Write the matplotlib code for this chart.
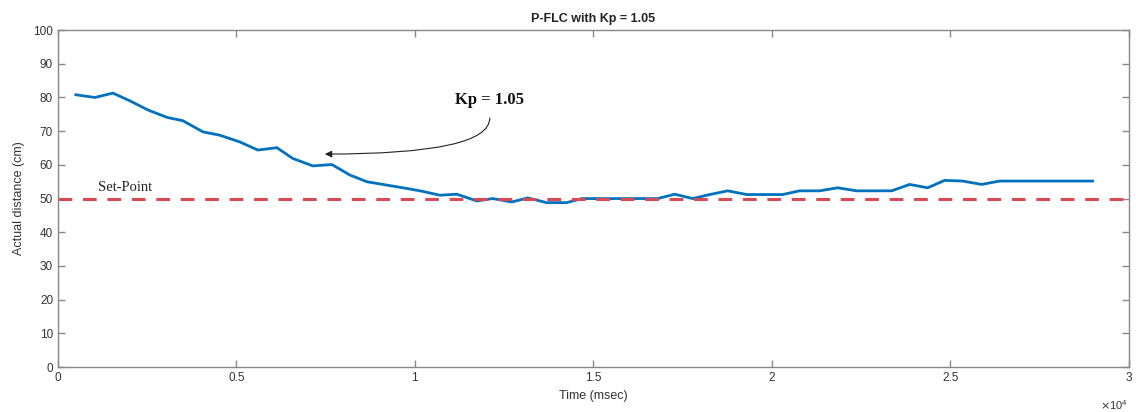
import numpy as np
import matplotlib
matplotlib.use("Agg")
import matplotlib.pyplot as plt
from matplotlib.ticker import FuncFormatter

# sample times (msec) and measured distance (cm)
time_ms = [504, 1036, 1541, 2017, 2521, 3053, 3501, 4062, 4538, 5098,
           5602, 6134, 6582, 7142, 7675, 8179, 8655, 9215, 9775, 10196,
           10700, 11176, 11736, 12184, 12717, 13165, 13697, 14257, 14677, 15181,
           15741, 16302, 16806, 17282, 17786, 18263, 18767, 19299, 19803, 20307,
           20783, 21344, 21848, 22380, 22884, 23360, 23865, 24369, 24845, 25349,
           25881, 26385, 26946, 27506, 28066, 28486, 28990]
distance = [80.8, 80.0, 81.3, 79.0, 76.3, 74.1, 73.1, 69.8, 68.8, 66.8,
            64.4, 65.1, 61.9, 59.7, 60.1, 57.0, 55.0, 54.0, 53.0, 52.2,
            51.0, 51.3, 49.3, 50.0, 49.0, 50.2, 48.8, 48.8, 50.0, 50.0,
            50.0, 50.0, 50.0, 51.3, 50.0, 51.2, 52.3, 51.2, 51.2, 51.2,
            52.3, 52.3, 53.2, 52.3, 52.3, 52.3, 54.2, 53.2, 55.4, 55.2,
            54.2, 55.2, 55.2, 55.2, 55.2, 55.2, 55.2]
set_point = 50
x_ticks = [0, 5000, 10000, 15000, 20000, 25000, 30000]
y_ticks = [0, 10, 20, 30, 40, 50, 60, 70, 80, 90, 100]

plt.rcParams['font.family'] = ['Liberation Sans', 'DejaVu Sans']

fig = plt.figure(figsize=(11.36, 4.12), dpi=100)
ax = fig.add_axes([0.051, 0.109, 0.9425, 0.818])

ax.plot(time_ms, distance, color='#0072BD', lw=2)
ax.axhline(set_point, color='#d94a55', lw=2.2, ls=(0, (4.5, 3.5)))

ax.set_xlim(0, 30000)
ax.set_ylim(0, 100)
ax.set_xticks(x_ticks)
ax.set_yticks(y_ticks)
ax.xaxis.set_major_formatter(FuncFormatter(lambda v, p: '%g' % (v / 1e4)))

gray = '#888888'
for s in ax.spines.values():
    s.set_color(gray)
    s.set_linewidth(1.0)
ax.tick_params(direction='in', top=True, right=True, length=5, width=1,
               color=gray, labelcolor='#333333', labelsize=8.5)

ax.set_title('P-FLC with Kp = 1.05', fontsize=9, fontweight='bold', color='#222222', pad=6)
ax.set_xlabel('Time (msec)', fontsize=9, color='#333333', labelpad=4)
ax.set_ylabel('Actual distance (cm)', fontsize=9, color='#333333', labelpad=6)
fig.text(1128 / 1136, 1 - 405 / 412, r'$\times\mathregular{10^4}$', ha='right', va='center',
         fontsize=8, color='#333333')

ax.text(1120, 53.4, 'Set-Point', family='Liberation Serif', fontsize=10.5,
        va='center', ha='left', color='#222222')
ax.text(12100, 79.2, 'Kp = 1.05', family='Liberation Serif', fontsize=12,
        fontweight='bold', va='center', ha='center', color='#111111')
ax.annotate('', xy=(7480, 63.2), xytext=(12100, 73.9),
            arrowprops=dict(arrowstyle='-|>', color='#222222', lw=0.8,
                            connectionstyle='angle3,angleA=90,angleB=0',
                            shrinkA=0, shrinkB=0, mutation_scale=10))

fig.savefig('out.png', dpi=100)
